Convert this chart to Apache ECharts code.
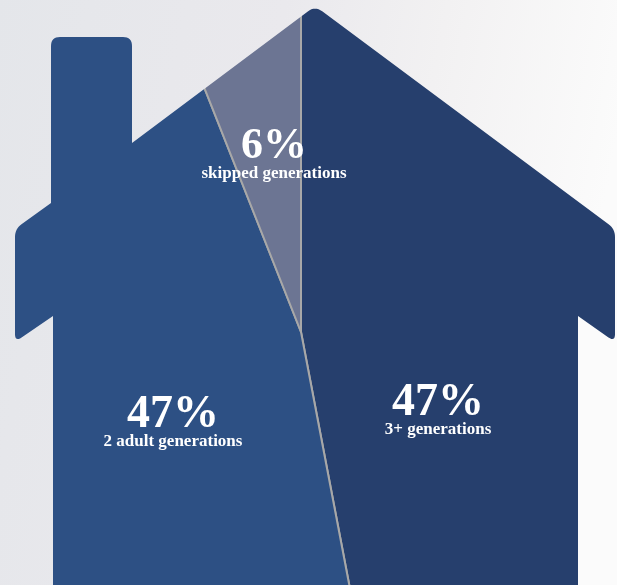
<!DOCTYPE html>
<html>
<head>
<meta charset="utf-8">
<script src="https://cdn.jsdelivr.net/npm/echarts@6/dist/echarts.min.js"></script>
<style>
  html, body { margin: 0; padding: 0; background: #eef0f2; }
  #chart { width: 617px; height: 585px; }
</style>
</head>
<body>
<div id="chart"></div>
<script>
// Household composition shares (percent)
const categories = ['3+ generations', '2 adult generations', 'skipped generations'];
const shares = [47, 47, 6];
const sliceColors = ['#263f6d', '#2d5084', '#6c7593'];

// House silhouette outline, clockwise from the bottom-right wall; [x, y, cornerRadius]
const houseOutline = [
  [578, 600, 0], [578, 316, 0], [615, 342, 8], [615, 229, 8], [315, 6, 9],
  [132, 143, 0], [132, 37, 9], [51, 37, 9], [51, 203, 0], [15, 229, 8],
  [15, 342, 8], [53, 316, 0], [53, 600, 0]
];

// Turn the outline into a point list with rounded corners (quadratic curve samples)
function roundedPoints(pts) {
  const out = [];
  const n = pts.length;
  for (let i = 0; i < n; i++) {
    const [x, y, r] = pts[i];
    if (!r || i === 0 || i === n - 1) { out.push([x, y]); continue; }
    const [px, py] = pts[i - 1];
    const [nx, ny] = pts[i + 1];
    const d1 = Math.hypot(px - x, py - y), d2 = Math.hypot(nx - x, ny - y);
    const ax = x + (px - x) / d1 * r, ay = y + (py - y) / d1 * r;
    const bx = x + (nx - x) / d2 * r, by = y + (ny - y) / d2 * r;
    const steps = 8;
    for (let s = 0; s <= steps; s++) {
      const t = s / steps, u = 1 - t;
      out.push([u * u * ax + 2 * u * t * x + t * t * bx, u * u * ay + 2 * u * t * y + t * t * by]);
    }
  }
  return out;
}

// Backdrop area around the house: canvas frame plus the house edge traced back
const backdrop = [[-5, 600], [-5, -5], [622, -5], [622, 600]].concat(roundedPoints(houseOutline));

const chart = echarts.init(document.getElementById('chart'), null, { renderer: 'canvas' });

const labelCenters = [[438, 412], [173, 424], [274, 156]];

chart.setOption({
  animation: false,
  backgroundColor: '#eef0f2',
  series: [{
    type: 'pie',
    silent: true,
    z: 1,
    center: [301, 332],
    radius: [0, 430],
    startAngle: 90,
    clockwise: true,
    avoidLabelOverlap: false,
    itemStyle: { borderColor: '#a8a8a8', borderWidth: 2 },
    label: {
      show: true,
      position: 'inside',
      color: '#ffffff',
      fontFamily: 'Liberation Serif',
      fontWeight: 'bold',
      formatter: p => (p.dataIndex === 2 ? '{s|' : '{p|') + p.value + '%}\n{n|' + p.name + '}',
      rich: {
        p: { fontSize: 46, lineHeight: 36, fontFamily: 'Liberation Serif', fontWeight: 'bold', color: '#fff' },
        s: { fontSize: 44, lineHeight: 36, fontFamily: 'Liberation Serif', fontWeight: 'bold', color: '#fff' },
        n: { fontSize: 17, lineHeight: 18, fontFamily: 'Liberation Serif', fontWeight: 'bold', color: '#fff' }
      }
    },
    labelLine: { show: false },
    labelLayout: params => ({
      x: labelCenters[params.dataIndex][0],
      y: labelCenters[params.dataIndex][1],
      align: 'center',
      verticalAlign: 'middle'
    }),
    data: categories.map((name, i) => ({
      name: name,
      value: shares[i],
      itemStyle: { color: sliceColors[i] }
    }))
  }],
  graphic: [{
    type: 'polygon',
    z: 10,
    silent: true,
    shape: { points: backdrop },
    style: {
      fill: {
        type: 'linear', x: 0, y: 0, x2: 1, y2: 0.2,
        colorStops: [
          { offset: 0, color: '#e4e6ea' },
          { offset: 0.45, color: '#eae9ed' },
          { offset: 0.7, color: '#f2f1f2' },
          { offset: 1, color: '#fbfbfb' }
        ]
      }
    }
  }]
});
</script>
</body>
</html>
